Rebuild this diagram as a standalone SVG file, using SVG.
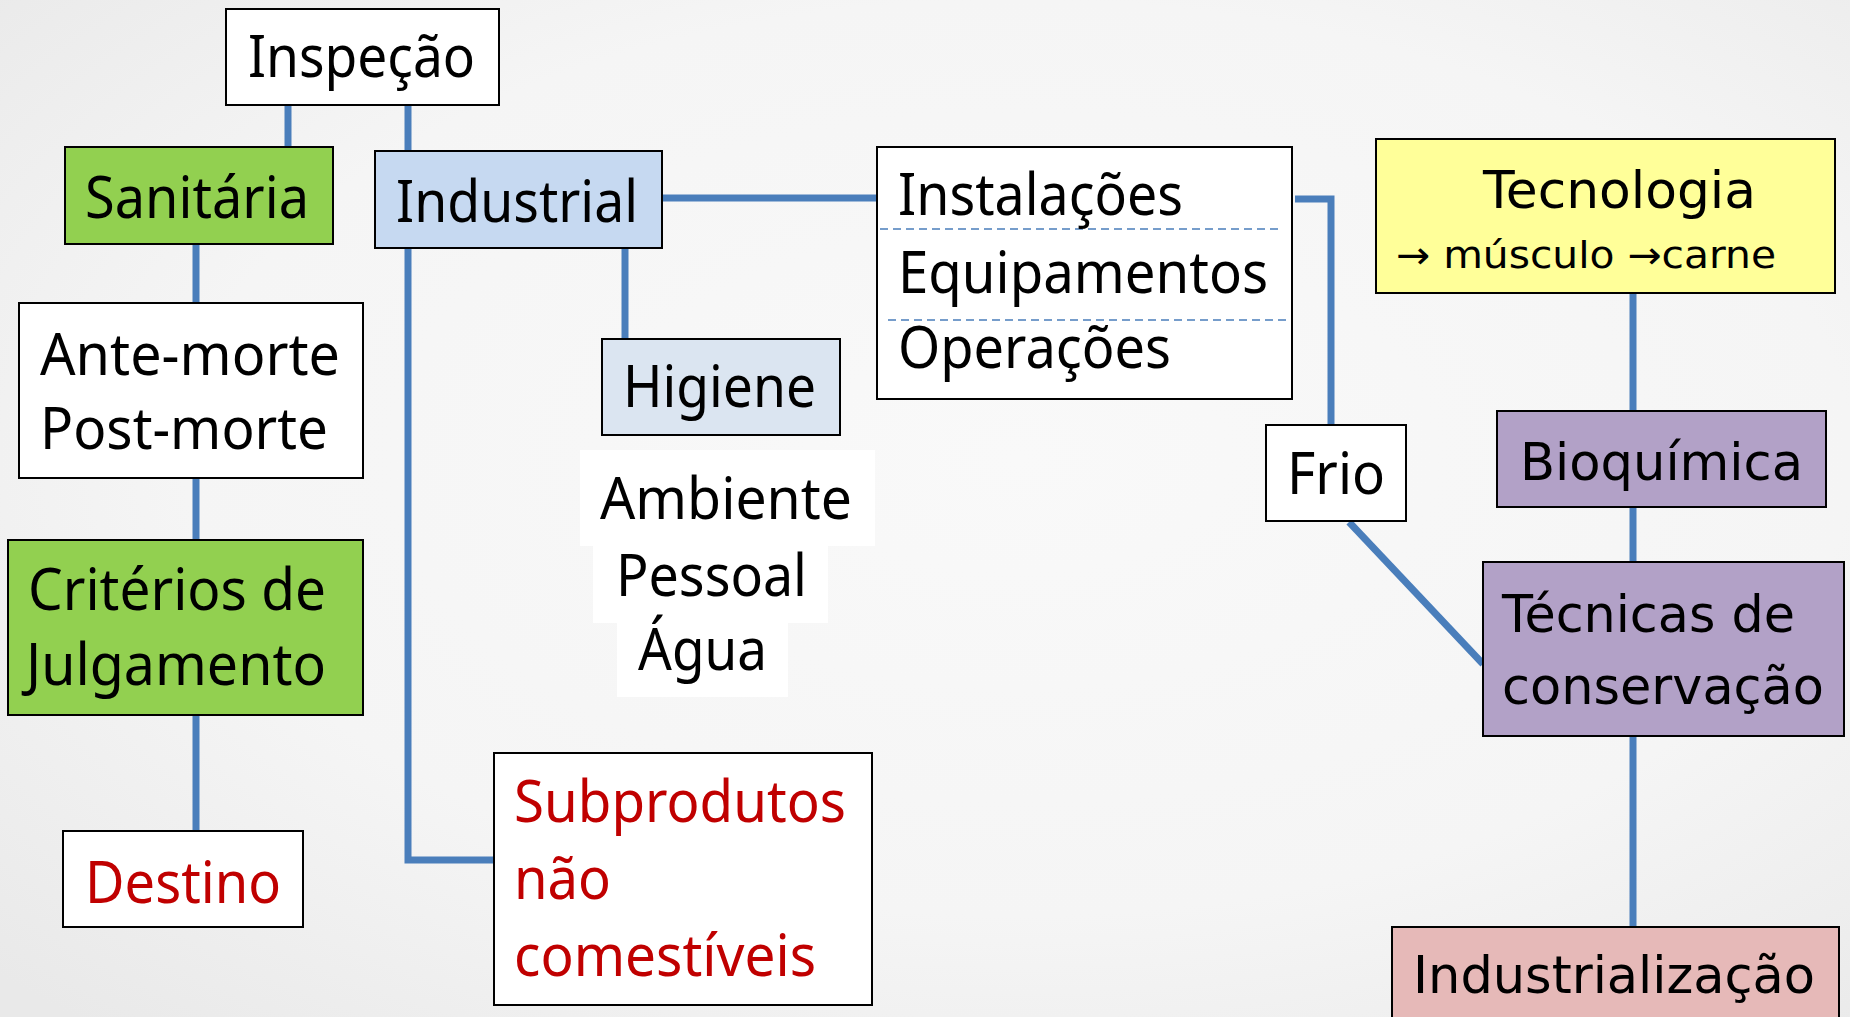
<svg xmlns="http://www.w3.org/2000/svg" width="1850" height="1017" viewBox="0 0 1850 1017">
<defs>
<radialGradient id="bg" cx="0.55" cy="0.45" r="0.75">
<stop offset="0" stop-color="#f9f9f9"/>
<stop offset="0.6" stop-color="#f5f5f5"/>
<stop offset="1" stop-color="#e9e9e9"/>
</radialGradient>
<style>
.box{stroke:#000;stroke-width:2}
.w{fill:#fff}
.g{fill:#92d050}
.b1{fill:#c6d9f1}
.b2{fill:#dbe5f1}
.y{fill:#ffff99}
.p{fill:#b2a1c7}
.r{fill:#e6b9b8}
.t{font-family:"Noto Sans","Open Sans",sans-serif;font-size:58px;fill:#000}
.v{font-family:"DejaVu Sans","Noto Sans",sans-serif;font-size:52px;fill:#000}
.red{fill:#c00000}
.c{fill:none;stroke:#4a7ebb;stroke-width:7}
.d{fill:none;stroke:#4a7ebb;stroke-width:1.6;stroke-dasharray:8 5}
</style>
</defs>
<rect width="1850" height="1017" fill="url(#bg)"/>
<g id="connectors">
<path class="c" d="M288 105V147"/>
<path class="c" d="M408 105V151"/>
<path class="c" d="M196 244V303"/>
<path class="c" d="M196 478V540"/>
<path class="c" d="M196 715V831"/>
<path class="c" d="M408 248V860H494"/>
<path class="c" d="M625 248V339"/>
<path class="c" d="M662 198H877"/>
<path class="c" d="M1295 199H1331V425"/>
<path class="c" d="M1349 522L1483 664"/>
<path class="c" d="M1633 293V411"/>
<path class="c" d="M1633 507V562"/>
<path class="c" d="M1633 736V927"/>
</g>
<g id="inspecao"><rect class="box w" x="226" y="9" width="273" height="96"/><text class="t" x="248" y="77" textLength="227" lengthAdjust="spacingAndGlyphs">Inspeção</text></g>
<g id="sanitaria"><rect class="box g" x="65" y="147" width="268" height="97"/><text class="t" x="85" y="218" textLength="224" lengthAdjust="spacingAndGlyphs">Sanitária</text></g>
<g id="industrial"><rect class="box b1" x="375" y="151" width="287" height="97"/><text class="t" x="396" y="222" textLength="242" lengthAdjust="spacingAndGlyphs">Industrial</text></g>
<g id="antemorte"><rect class="box w" x="19" y="303" width="344" height="175"/><text class="t" x="40" y="375" textLength="300" lengthAdjust="spacingAndGlyphs">Ante-morte</text><text class="t" x="40" y="449" textLength="288" lengthAdjust="spacingAndGlyphs">Post-morte</text></g>
<g id="criterios"><rect class="box g" x="8" y="540" width="355" height="175"/><text class="t" x="28" y="610" textLength="298" lengthAdjust="spacingAndGlyphs">Critérios de</text><text class="t" x="26" y="685" textLength="300" lengthAdjust="spacingAndGlyphs">Julgamento</text></g>
<g id="destino"><rect class="box w" x="63" y="831" width="240" height="96"/><text class="t red" x="85" y="903" textLength="196" lengthAdjust="spacingAndGlyphs">Destino</text></g>
<g id="higiene"><rect class="box b2" x="602" y="339" width="238" height="96"/><text class="t" x="623" y="407" textLength="193" lengthAdjust="spacingAndGlyphs">Higiene</text></g>
<g id="ambiente">
<rect class="w" x="580" y="450" width="295" height="96"/>
<rect class="w" x="593" y="545" width="235" height="78"/>
<rect class="w" x="617" y="622" width="171" height="75"/>
<text class="t" x="600" y="519" textLength="252" lengthAdjust="spacingAndGlyphs">Ambiente</text>
<text class="t" x="616" y="596" textLength="191" lengthAdjust="spacingAndGlyphs">Pessoal</text>
<text class="t" x="638" y="670" textLength="129" lengthAdjust="spacingAndGlyphs">Água</text>
</g>
<g id="subprodutos"><rect class="box w" x="494" y="753" width="378" height="252"/><text class="t red" x="514" y="822" textLength="332" lengthAdjust="spacingAndGlyphs">Subprodutos</text><text class="t red" x="514" y="899" textLength="97" lengthAdjust="spacingAndGlyphs">não</text><text class="t red" x="514" y="976" textLength="302" lengthAdjust="spacingAndGlyphs">comestíveis</text></g>
<g id="instalacoes"><rect class="box w" x="877" y="147" width="415" height="252"/>
<path class="d" d="M880 229H1278"/><path class="d" d="M888 320H1286"/>
<text class="t" x="898" y="215" textLength="285" lengthAdjust="spacingAndGlyphs">Instalações</text>
<text class="t" x="898" y="293" textLength="370" lengthAdjust="spacingAndGlyphs">Equipamentos</text>
<text class="t" x="898" y="368" textLength="273" lengthAdjust="spacingAndGlyphs">Operações</text></g>
<g id="frio"><rect class="box w" x="1266" y="425" width="140" height="96"/><text class="t" x="1287" y="494" textLength="98" lengthAdjust="spacingAndGlyphs">Frio</text></g>
<g id="tecnologia"><rect class="box y" x="1376" y="139" width="459" height="154"/><text class="v" x="1483" y="208" textLength="273" lengthAdjust="spacingAndGlyphs">Tecnologia</text><text class="v" style="font-size:38px" x="1396" y="268" textLength="380" lengthAdjust="spacingAndGlyphs">→ músculo →carne</text></g>
<g id="bioquimica"><rect class="box p" x="1497" y="411" width="329" height="96"/><text class="v" x="1520" y="480" textLength="283" lengthAdjust="spacingAndGlyphs">Bioquímica</text></g>
<g id="tecnicas"><rect class="box p" x="1483" y="562" width="361" height="174"/><text class="v" x="1502" y="632" textLength="293" lengthAdjust="spacingAndGlyphs">Técnicas de</text><text class="v" x="1502" y="704" textLength="322" lengthAdjust="spacingAndGlyphs">conservação</text></g>
<g id="industrializacao"><rect class="box r" x="1392" y="927" width="447" height="100"/><text class="v" x="1413" y="993" textLength="402" lengthAdjust="spacingAndGlyphs">Industrialização</text></g>
</svg>
